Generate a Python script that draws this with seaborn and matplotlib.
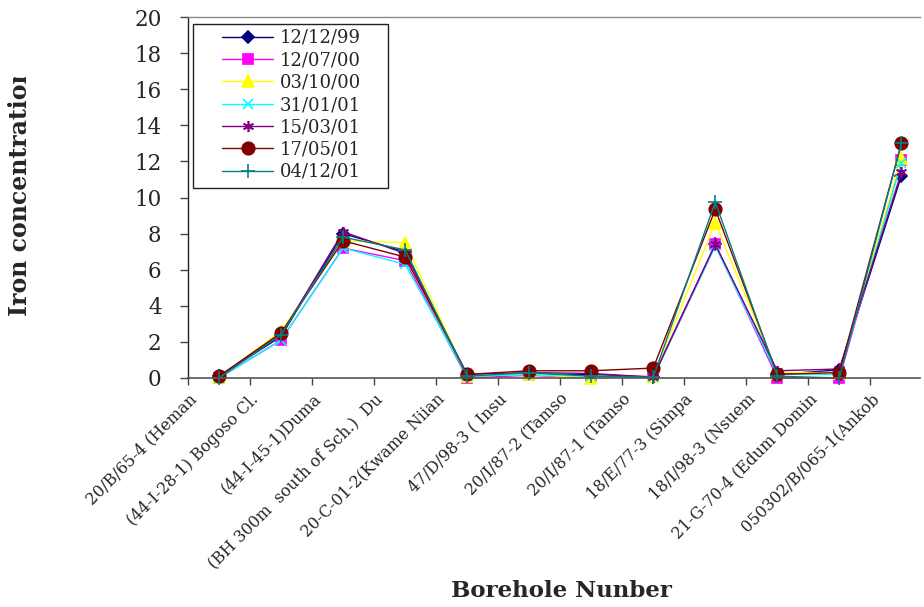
import matplotlib
matplotlib.use("Agg")
import matplotlib.pyplot as plt
from matplotlib.transforms import Bbox, ScaledTranslation
from matplotlib.patches import Rectangle
import seaborn as sns
import pandas as pd

# Borehole identifiers (as printed on the category axis)
boreholes = [
    "20/B/65-4 (Heman",
    "(44-I-28-1) Bogoso Cl.",
    "(44-I-45-1)Duma",
    "(BH 300m  south of Sch.)  Du",
    "20-C-01-2(Kwame Niian",
    "47/D/98-3 ( Insu",
    "20/I/87-2 (Tamso",
    "20/I/87-1 (Tamso",
    "18/E/77-3 (Simpa",
    "18/I/98-3 (Nsuem",
    "21-G-70-4 (Edum Domin",
    "050302/B/065-1(Ankob",
]

# Sampling dates
dates = ["12/12/99", "12/07/00", "03/10/00", "31/01/01", "15/03/01", "17/05/01", "04/12/01"]

# Iron concentration per sampling date
fe_121299 = [0.1, 2.3, 8.0, 7.0, 0.1, 0.2, 0.2, 0.05, 7.4, 0.2, 0.45, 11.2]
fe_120700 = [0.0, 2.1, 7.2, 6.5, 0.0, 0.15, 0.0, 0.1, 7.4, 0.0, 0.0, 12.1]
fe_031000 = [0.05, 2.6, 7.6, 7.5, 0.1, 0.2, 0.0, 0.1, 8.6, 0.3, 0.3, 12.2]
fe_310101 = [0.0, 2.1, 7.2, 6.3, 0.1, 0.2, 0.1, 0.05, 7.3, 0.2, 0.2, 11.9]
fe_150301 = [0.1, 2.4, 8.1, 6.9, 0.2, 0.3, 0.25, 0.05, 7.4, 0.4, 0.5, 11.4]
fe_170501 = [0.1, 2.5, 7.6, 6.7, 0.2, 0.4, 0.4, 0.55, 9.35, 0.2, 0.3, 13.0]
fe_041201 = [0.0, 2.4, 7.8, 7.1, 0.1, 0.3, 0.1, 0.05, 9.75, 0.1, 0.0, 13.0]

series = [fe_121299, fe_120700, fe_031000, fe_310101, fe_150301, fe_170501, fe_041201]

colors = ["#000080", "#FF00FF", "#FFFF00", "#00FFFF", "#800080", "#800000", "#008080"]
markers = ["D", "s", "^", "x", (6, 2, 0), "o", "+"]
msizes = [6, 7, 8, 7, 8, 9, 10]

rows = []
for d, vals in zip(dates, series):
    for i, v in enumerate(vals):
        rows.append({"date": d, "pos": i, "iron": v})
df = pd.DataFrame(rows)

sns.set_theme(style="white")
plt.rcParams["font.family"] = ["DejaVu Serif", "Liberation Serif"]

W, H = 924, 607
fig = plt.figure(figsize=(W / 100, H / 100), dpi=100)
ax = fig.add_axes([188 / W, 1 - 378 / H, 732 / W, 361 / H])

for d, c, m, ms in zip(dates, colors, markers, msizes):
    sub = df[df["date"] == d]
    sns.lineplot(
        data=sub, x="pos", y="iron", ax=ax, color=c, marker=m,
        markersize=ms, markeredgecolor=c, markeredgewidth=1.2,
        linewidth=1.0, label=d, clip_on=False,
    )

ax.set_xlim(-0.5, 11.3)
ax.set_ylim(0, 20)
ax.set_yticks(range(0, 21, 2))
ax.set_yticklabels([str(v) for v in range(0, 21, 2)], fontsize=15.5)

# category labels sit at the left boundary of each category
ax.set_xticks([i - 0.5 for i in range(len(boreholes))])
ax.set_xticklabels(boreholes, rotation=45, ha="right", va="top",
                   rotation_mode="anchor", fontsize=11.5)
shift = ScaledTranslation(-9 / 100, 0, fig.dpi_scale_trans)
for lbl in ax.get_xticklabels():
    lbl.set_transform(lbl.get_transform() + shift)
ax.tick_params(axis="x", direction="out", length=5, width=1, color="#444444", pad=4, bottom=True)
ax.tick_params(axis="y", direction="out", length=6, width=1, color="#444444", pad=13, left=True)

ax.set_xlabel("")
ax.set_ylabel("")
ax.grid(False)

ax.spines["left"].set_color("#222222")
ax.spines["left"].set_linewidth(1.0)
ax.spines["bottom"].set_color("#555555")
ax.spines["bottom"].set_linewidth(1.2)
ax.spines["top"].set_color("#8a8a8a")
ax.spines["top"].set_linewidth(1.0)
ax.spines["right"].set_visible(False)

# legend box drawn separately so the inner margins can differ per side
ax.add_patch(Rectangle((193 / W, 1 - 188 / H), 195 / W, 164 / H,
                       transform=fig.transFigure, fill=True, clip_on=False,
                       facecolor="white", edgecolor="#222222",
                       linewidth=1.0, zorder=5))
handles, labels = ax.get_legend_handles_labels()
leg = ax.legend(
    handles, labels, loc="upper left",
    bbox_to_anchor=(222 / W, 1 - 29 / H), bbox_transform=fig.transFigure,
    borderaxespad=0, borderpad=0, frameon=False, fontsize=13,
    handlelength=2.85, handletextpad=0.35, labelspacing=0.24, numpoints=1,
)
leg.set_zorder(6)

# axis titles
fig.text(561 / W, 1 - 591 / H, "Borehole Nunber", ha="center", va="center",
         fontsize=16.5, fontweight="bold")
ylab = fig.text(20 / W, 1 - 316 / H, "Iron concentration", rotation=90,
                rotation_mode="anchor", ha="left", va="center",
                fontsize=17, fontweight="bold")
ylab.set_clip_box(Bbox([[0, 0], [100, H - 77]]))
ylab.set_clip_on(True)

fig.savefig("out.png", dpi=100)
